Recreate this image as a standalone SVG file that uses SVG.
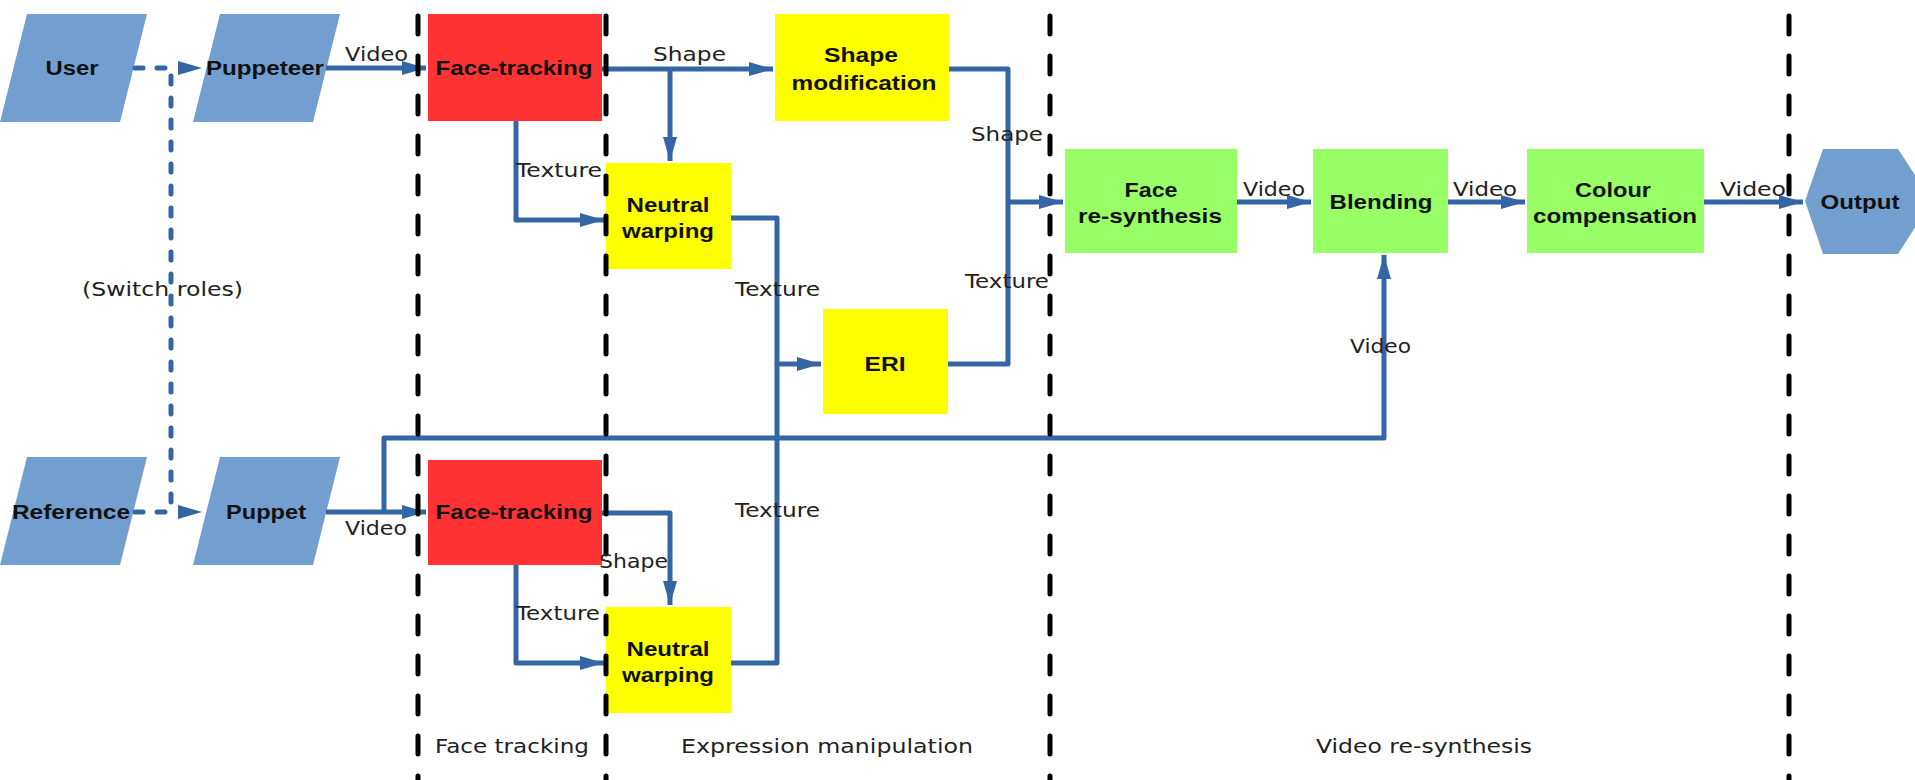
<svg xmlns="http://www.w3.org/2000/svg" width="1915" height="780" viewBox="0 0 1915 780">
<style>
.io{fill:#729fcf}
.red{fill:#ff3333}
.yel{fill:#ffff00}
.grn{fill:#99ff66}
.bl{font-family:"Liberation Sans",Arial,sans-serif;font-weight:bold;font-size:21px;fill:#111;text-anchor:middle}
.sl{font-family:"DejaVu Sans","Liberation Sans",sans-serif;font-size:19px;fill:#222}
.c{fill:none;stroke:#3465a4;stroke-width:5;stroke-linejoin:round}
.dot{fill:none;stroke:#3465a4;stroke-width:5;stroke-linecap:round;stroke-dasharray:8 14}
.sep{fill:none;stroke:#000;stroke-width:5;stroke-linecap:round;stroke-dasharray:18 22}
</style>
<defs>
<marker id="ah" markerUnits="userSpaceOnUse" markerWidth="26" markerHeight="16" refX="24" refY="7" orient="auto">
<path d="M0,0 L24,7 L0,14 z" fill="#3465a4"/>
</marker>
</defs>

<g id="user"><polygon class="io" points="27,14 147,14 120,122 0,122"/><text class="bl" x="72" y="75" textLength="53" lengthAdjust="spacingAndGlyphs">User</text></g>
<g id="puppeteer"><polygon class="io" points="220,14 340,14 313,122 193,122"/><text class="bl" x="265" y="75" textLength="118" lengthAdjust="spacingAndGlyphs">Puppeteer</text></g>
<g id="reference"><polygon class="io" points="27,457 147,457 120,565 0,565"/><text class="bl" x="71" y="519" textLength="118" lengthAdjust="spacingAndGlyphs">Reference</text></g>
<g id="puppet"><polygon class="io" points="220,457 340,457 313,565 193,565"/><text class="bl" x="266" y="519" textLength="80" lengthAdjust="spacingAndGlyphs">Puppet</text></g>

<g id="facetracking1"><rect class="red" x="428" y="14" width="174" height="107"/><text class="bl" x="514" y="75" textLength="157" lengthAdjust="spacingAndGlyphs">Face-tracking</text></g>
<g id="facetracking2"><rect class="red" x="428" y="460" width="174" height="105"/><text class="bl" x="514" y="519" textLength="157" lengthAdjust="spacingAndGlyphs">Face-tracking</text></g>

<g id="shapemod"><rect class="yel" x="775" y="14" width="174" height="107"/><text class="bl" x="861" y="62" textLength="74" lengthAdjust="spacingAndGlyphs">Shape</text><text class="bl" x="864" y="90" textLength="145" lengthAdjust="spacingAndGlyphs">modification</text></g>
<g id="neutral1"><rect class="yel" x="606" y="163" width="125" height="106"/><text class="bl" x="668" y="212" textLength="83" lengthAdjust="spacingAndGlyphs">Neutral</text><text class="bl" x="668" y="238" textLength="92" lengthAdjust="spacingAndGlyphs">warping</text></g>
<g id="neutral2"><rect class="yel" x="606" y="607" width="125" height="106"/><text class="bl" x="668" y="656" textLength="83" lengthAdjust="spacingAndGlyphs">Neutral</text><text class="bl" x="668" y="682" textLength="92" lengthAdjust="spacingAndGlyphs">warping</text></g>
<g id="eri"><rect class="yel" x="823" y="309" width="125" height="105"/><text class="bl" x="885" y="371" textLength="41" lengthAdjust="spacingAndGlyphs">ERI</text></g>

<g id="faceresynth"><rect class="grn" x="1065" y="149" width="172" height="104"/><text class="bl" x="1151" y="197" textLength="53" lengthAdjust="spacingAndGlyphs">Face</text><text class="bl" x="1150" y="223" textLength="144" lengthAdjust="spacingAndGlyphs">re-synthesis</text></g>
<g id="blending"><rect class="grn" x="1313" y="149" width="135" height="104"/><text class="bl" x="1381" y="209" textLength="103" lengthAdjust="spacingAndGlyphs">Blending</text></g>
<g id="colour"><rect class="grn" x="1527" y="149" width="177" height="104"/><text class="bl" x="1613" y="197" textLength="76" lengthAdjust="spacingAndGlyphs">Colour</text><text class="bl" x="1615" y="223" textLength="164" lengthAdjust="spacingAndGlyphs">compensation</text></g>
<g id="output"><polygon class="io" points="1805,201 1823,149 1898,149 1932,201 1898,254 1823,254"/><text class="bl" x="1860" y="209" textLength="79" lengthAdjust="spacingAndGlyphs">Output</text></g>

<g id="connectors">
<path class="dot" d="M135,68 H178"/>
<path class="dot" d="M135,512 H178"/>
<path class="dot" d="M171,76 V505"/>
<path d="M178,61 L202,68 L178,75 z" fill="#3465a4"/>
<path d="M178,505 L202,512 L178,519 z" fill="#3465a4"/>
<path class="c" d="M326,68 H426" marker-end="url(#ah)"/>
<path class="c" d="M602,69 H773" marker-end="url(#ah)"/>
<path class="c" d="M670,69 V161" marker-end="url(#ah)"/>
<path class="c" d="M516,121 V220 H604" marker-end="url(#ah)"/>
<path class="c" d="M949,69 H1008 V202 H1063" marker-end="url(#ah)"/>
<path class="c" d="M948,364 H1008 V202"/>
<path class="c" d="M731,218 H777 V364 H821" marker-end="url(#ah)"/>
<path class="c" d="M731,663 H777 V364"/>
<path class="c" d="M1237,202 H1311" marker-end="url(#ah)"/>
<path class="c" d="M1448,202 H1525" marker-end="url(#ah)"/>
<path class="c" d="M1704,202 H1803" marker-end="url(#ah)"/>
<path class="c" d="M326,512 H426" marker-end="url(#ah)"/>
<path class="c" d="M384,512 V438 H1384 V255" marker-end="url(#ah)"/>
<path class="c" d="M602,513 H670 V605" marker-end="url(#ah)"/>
<path class="c" d="M516,565 V663 H604" marker-end="url(#ah)"/>
</g>

<g id="separators">
<path class="sep" d="M418,16 V780"/>
<path class="sep" d="M606,16 V780"/>
<path class="sep" d="M1050,16 V780"/>
<path class="sep" d="M1789,16 V780"/>
</g>

<g id="labels">
<text class="sl" x="345" y="61" textLength="63" lengthAdjust="spacingAndGlyphs">Video</text>
<text class="sl" x="653" y="61" textLength="73" lengthAdjust="spacingAndGlyphs">Shape</text>
<text class="sl" x="516" y="177" textLength="86" lengthAdjust="spacingAndGlyphs">Texture</text>
<text class="sl" x="971" y="141" textLength="72" lengthAdjust="spacingAndGlyphs">Shape</text>
<text class="sl" x="735" y="296" textLength="85" lengthAdjust="spacingAndGlyphs">Texture</text>
<text class="sl" x="965" y="288" textLength="84" lengthAdjust="spacingAndGlyphs">Texture</text>
<text class="sl" x="1243" y="196" textLength="62" lengthAdjust="spacingAndGlyphs">Video</text>
<text class="sl" x="1453" y="196" textLength="64" lengthAdjust="spacingAndGlyphs">Video</text>
<text class="sl" x="1720" y="196" textLength="66" lengthAdjust="spacingAndGlyphs">Video</text>
<text class="sl" x="1350" y="353" textLength="61" lengthAdjust="spacingAndGlyphs">Video</text>
<text class="sl" x="82" y="296" textLength="161" lengthAdjust="spacingAndGlyphs">(Switch roles)</text>
<text class="sl" x="345" y="535" textLength="62" lengthAdjust="spacingAndGlyphs">Video</text>
<text class="sl" x="735" y="517" textLength="85" lengthAdjust="spacingAndGlyphs">Texture</text>
<text class="sl" x="599" y="568" textLength="69" lengthAdjust="spacingAndGlyphs">Shape</text>
<text class="sl" x="516" y="620" textLength="84" lengthAdjust="spacingAndGlyphs">Texture</text>
<text class="sl" x="435" y="753" textLength="154" lengthAdjust="spacingAndGlyphs">Face tracking</text>
<text class="sl" x="681" y="753" textLength="292" lengthAdjust="spacingAndGlyphs">Expression manipulation</text>
<text class="sl" x="1316" y="753" textLength="216" lengthAdjust="spacingAndGlyphs">Video re-synthesis</text>
</g>
</svg>
